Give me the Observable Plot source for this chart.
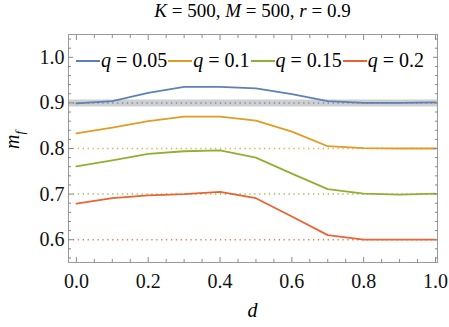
<!DOCTYPE html>
<html><head><meta charset="utf-8">
<script src="https://cdn.jsdelivr.net/npm/d3@7"></script>
<script src="https://cdn.jsdelivr.net/npm/@observablehq/plot@0.6"></script>
<style>
body{margin:0;background:#fff;}
#wrap{position:relative;width:449px;height:327px;font-family:'Liberation Serif','DejaVu Serif',serif;color:#000;}
#wrap svg{position:absolute;left:0;top:0;}
.ov{position:absolute;white-space:nowrap;}
#title{left:0;width:505px;top:0px;text-align:center;font-size:19px;}
#xlab{left:0;width:505px;top:299px;text-align:center;font-size:20px;font-style:italic;}
#ylab{left:14px;top:140px;font-size:20px;transform:translate(-50%,-50%) rotate(-90deg);}
#legend{left:76px;top:49px;display:flex;align-items:center;font-size:20px;}
.sw{display:inline-block;width:24px;height:2px;margin-top:1px;}
i{font-style:italic;}
</style></head><body>
<div id="wrap"></div>
<script>
const dValues = [0, 0.1, 0.2, 0.3, 0.4, 0.5, 0.6, 0.7, 0.8, 0.9, 1.0];
const q005 = [0.899, 0.904, 0.922, 0.935, 0.935, 0.932, 0.919, 0.904, 0.900, 0.900, 0.901];
const q010 = [0.833, 0.846, 0.860, 0.870, 0.870, 0.861, 0.837, 0.805, 0.801, 0.800, 0.800];
const q015 = [0.761, 0.774, 0.788, 0.794, 0.796, 0.780, 0.745, 0.711, 0.701, 0.699, 0.701];
const q020 = [0.679, 0.691, 0.697, 0.700, 0.705, 0.691, 0.651, 0.610, 0.600, 0.600, 0.600];
const seriesNames = ["q = 0.05", "q = 0.1", "q = 0.15", "q = 0.2"];
const seriesValues = [q005, q010, q015, q020];
const targets = [0.9, 0.8, 0.7, 0.6];
const colors = ["#5e81b5", "#e19c24", "#8fb032", "#eb6235"];
const xMajor = [0, 0.2, 0.4, 0.6, 0.8, 1.0];
const xMinor = [0.05,0.1,0.15,0.25,0.3,0.35,0.45,0.5,0.55,0.65,0.7,0.75,0.85,0.9,0.95];
const yMajor = [0.6, 0.7, 0.8, 0.9, 1.0];
const yMinor = [0.56,0.58,0.62,0.64,0.66,0.68,0.72,0.74,0.76,0.78,0.82,0.84,0.86,0.88,0.92,0.94,0.96,0.98,1.02,1.04];

const rows = [];
seriesNames.forEach((s, i) => dValues.forEach((d, j) => rows.push({series: s, d, m: seriesValues[i][j]})));
const refs = seriesNames.map((s, i) => ({series: s, y: targets[i]}));

const tc = "#8a8a8a";
const ff = "Liberation Serif, DejaVu Serif, serif";
const plot = Plot.plot({
  width: 449, height: 327,
  marginLeft: 68, marginRight: 12, marginTop: 34, marginBottom: 65,
  x: {domain: [-0.022, 1.0056]},
  y: {domain: [0.55, 1.05]},
  color: {domain: seriesNames, range: colors},
  style: {fontFamily: ff, fontSize: "20px", background: "#fff"},
  marks: [
    Plot.ruleY([0.9], {stroke: "#a8a8a8", strokeWidth: 7, strokeOpacity: 0.55}),
    Plot.ruleY(refs, {y: "y", stroke: "series", strokeWidth: 1.5, strokeDasharray: "1.3,3.6", strokeOpacity: 0.85}),
    Plot.line(rows, {x: "d", y: "m", z: "series", stroke: "series", strokeWidth: 1.8}),
    Plot.frame({stroke: "#9a9a9a"}),
    Plot.axisX(xMajor, {anchor: "bottom", tickSize: -5, text: null, label: null, stroke: tc}),
    Plot.axisX(xMinor, {anchor: "bottom", tickSize: -3, text: null, label: null, stroke: tc}),
    Plot.axisX(xMajor, {anchor: "top", tickSize: -5, text: null, label: null, stroke: tc}),
    Plot.axisX(xMinor, {anchor: "top", tickSize: -3, text: null, label: null, stroke: tc}),
    Plot.axisY(yMajor, {anchor: "left", tickSize: -5, text: null, label: null, stroke: tc}),
    Plot.axisY(yMinor, {anchor: "left", tickSize: -3, text: null, label: null, stroke: tc}),
    Plot.axisY(yMajor, {anchor: "right", tickSize: -5, text: null, label: null, stroke: tc}),
    Plot.axisY(yMinor, {anchor: "right", tickSize: -3, text: null, label: null, stroke: tc}),
    Plot.axisX(xMajor, {anchor: "bottom", tickSize: 0, tickPadding: 11, tickFormat: d => d.toFixed(1), label: null, fill: "#111", fontFamily: ff}),
    Plot.axisY(yMajor, {anchor: "left", tickSize: 0, tickPadding: 4, tickFormat: d => d.toFixed(1), label: null, fill: "#111", fontFamily: ff})
  ]
});
const wrap = document.getElementById("wrap");
wrap.appendChild(plot);

function ov(id, html) { const e = document.createElement("div"); e.className = "ov"; e.id = id; e.innerHTML = html; wrap.appendChild(e); return e; }
ov("title", "<i>K</i> = 500, <i>M</i> = 500, <i>r</i> = 0.9");
ov("xlab", "d");
ov("ylab", "<i>m</i><sub style='font-size:13px'><i>f</i></sub>");
const lg = ov("legend", "");
seriesNames.forEach((s, i) => {
  const sw = document.createElement("span"); sw.className = "sw"; sw.style.background = colors[i]; lg.appendChild(sw);
  const t = document.createElement("span");
  const [a, b] = s.split(" = ");
  t.innerHTML = "<i>" + a + "</i> = " + b;
  t.style.margin = "0 1px";
  lg.appendChild(t);
});
</script>
</body></html>
